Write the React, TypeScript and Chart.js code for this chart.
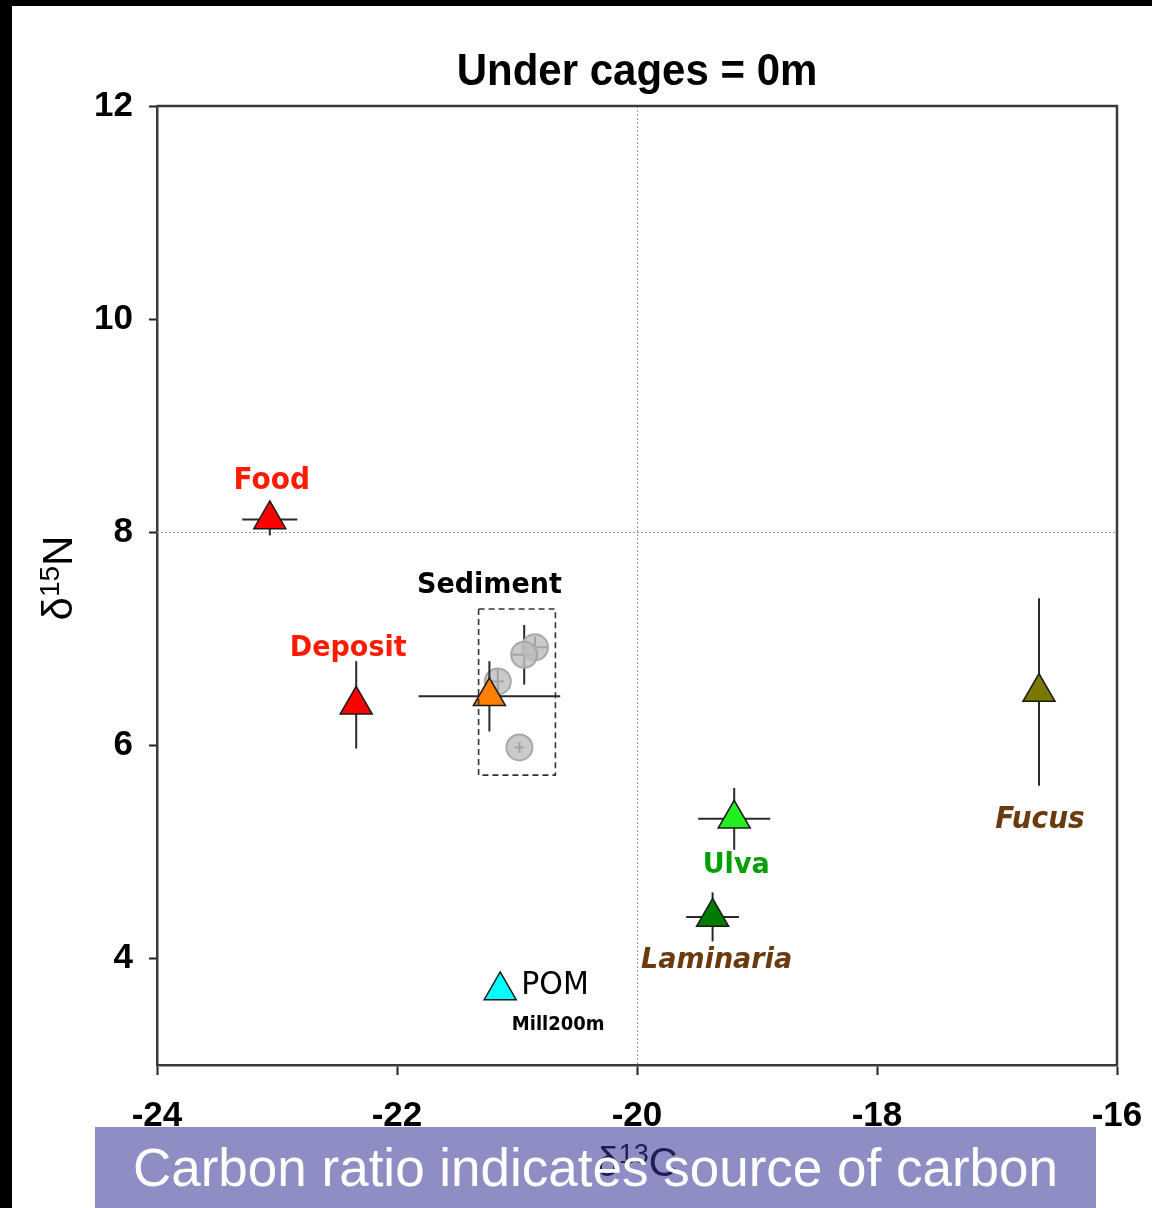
import { useEffect, useRef } from 'react';
import { Chart, registerables } from 'chart.js';

Chart.register(...registerables);

// ---- data ----
const sourceNames = ['Food', 'Deposit', 'Sediment', 'POM', 'Ulva', 'Laminaria', 'Fucus'];
const sourceC13 = [-23.06, -22.34, -21.23, -21.14, -19.19, -19.37, -16.65];
const sourceN15 = [8.12, 6.38, 6.46, 3.7, 5.31, 4.39, 6.5];
const sourceC13Err = [0.23, 0, 0.59, 0, 0.3, 0.22, 0];
const sourceN15Err = [0.15, 0.41, 0.33, 0, 0.29, 0.23, 0.88];

const sedimentC13 = [-20.85, -20.94, -21.16, -20.98];
const sedimentN15 = [6.92, 6.85, 6.6, 5.98];
const sedimentC13Err = [0.1, 0.1, 0.05, 0.04];
const sedimentN15Err = [0.1, 0.28, 0.12, 0.05];
const sedimentBoxC13 = [-21.32, -20.68];
const sedimentBoxN15 = [5.72, 7.28];

const xTicks = [-24, -22, -20, -18, -16];
const yTicks = [4, 6, 8, 10, 12];
const gridX = [-20];
const gridY = [8];

const titleText = 'Under cages = 0m';
const bannerText = 'Carbon ratio indicates source of carbon';

// ---- styles ----
const sourceColors = ['#ff0000', '#ff0000', '#ff8000', '#00ffff', '#22ee22', '#007a00', '#7a7800'];
const labelStyles: Record<string, { font: string; color: string; dx: number; dy: number; align?: CanvasTextAlign }> = {
  Food: { font: 'bold 28px "DejaVu Sans"', color: '#ff1a00', dx: 2, dy: -38 },
  Deposit: { font: 'bold 27px "DejaVu Sans"', color: '#ff1a00', dx: -8, dy: -56 },
  Sediment: { font: 'bold 27px "DejaVu Sans"', color: '#000000', dx: 0, dy: -111 },
  POM: { font: '30px "DejaVu Sans"', color: '#000000', dx: 21, dy: -5, align: 'left' },
  Ulva: { font: 'bold 27px "DejaVu Sans"', color: '#00a000', dx: 2, dy: 47 },
  Laminaria: { font: 'italic bold 27px "DejaVu Sans"', color: '#6b3a0e', dx: 4, dy: 44 },
  Fucus: { font: 'italic bold 28px "DejaVu Sans"', color: '#6b3a0e', dx: 1, dy: 128 },
};

function drawText(ctx: CanvasRenderingContext2D, text: string, x: number, y: number, font: string, color: string, align: CanvasTextAlign = 'center', sy = 1.08) {
  ctx.save();
  ctx.font = font;
  ctx.fillStyle = color;
  ctx.textAlign = align;
  ctx.textBaseline = 'middle';
  ctx.translate(x, y);
  ctx.scale(1, sy);
  ctx.fillText(text, 0, 0);
  ctx.restore();
}

function drawErrBars(ctx: CanvasRenderingContext2D, chart: any, xs: number[], ys: number[], xe: number[], ye: number[]) {
  const sx = chart.scales.x;
  const syy = chart.scales.y;
  ctx.save();
  ctx.strokeStyle = '#2a2a2a';
  ctx.lineWidth = 2;
  for (let i = 0; i < xs.length; i++) {
    const px = sx.getPixelForValue(xs[i]);
    const py = syy.getPixelForValue(ys[i]);
    if (xe[i] > 0) {
      ctx.beginPath();
      ctx.moveTo(sx.getPixelForValue(xs[i] - xe[i]), py);
      ctx.lineTo(sx.getPixelForValue(xs[i] + xe[i]), py);
      ctx.stroke();
    }
    if (ye[i] > 0) {
      ctx.beginPath();
      ctx.moveTo(px, syy.getPixelForValue(ys[i] - ye[i]));
      ctx.lineTo(px, syy.getPixelForValue(ys[i] + ye[i]));
      ctx.stroke();
    }
  }
  ctx.restore();
}

const decorPlugin = {
  id: 'decor',
  beforeDatasetsDraw(chart: any) {
    const { ctx, chartArea: a, scales } = chart;
    ctx.save();
    ctx.strokeStyle = '#9a9a9a';
    ctx.lineWidth = 1;
    ctx.setLineDash([2, 2]);
    gridX.forEach((v) => {
      const x = Math.round(scales.x.getPixelForValue(v)) + 0.5;
      ctx.beginPath();
      ctx.moveTo(x, a.top);
      ctx.lineTo(x, a.bottom);
      ctx.stroke();
    });
    gridY.forEach((v) => {
      const y = Math.round(scales.y.getPixelForValue(v)) + 0.5;
      ctx.beginPath();
      ctx.moveTo(a.left, y);
      ctx.lineTo(a.right, y);
      ctx.stroke();
    });
    ctx.restore();
  },
  beforeDatasetDraw(chart: any, args: any) {
    const ctx = chart.ctx;
    if (args.index === 0) {
      drawErrBars(ctx, chart, sourceC13, sourceN15, sourceC13Err, sourceN15Err);
    } else if (args.index === 1) {
      drawErrBars(ctx, chart, sedimentC13, sedimentN15, sedimentC13Err, sedimentN15Err);
    }
  },
  afterDatasetsDraw(chart: any) {
    const { ctx, scales } = chart;
    const x0 = scales.x.getPixelForValue(sedimentBoxC13[0]);
    const x1 = scales.x.getPixelForValue(sedimentBoxC13[1]);
    const y0 = scales.y.getPixelForValue(sedimentBoxN15[1]);
    const y1 = scales.y.getPixelForValue(sedimentBoxN15[0]);
    ctx.save();
    ctx.strokeStyle = '#333333';
    ctx.lineWidth = 1.6;
    ctx.setLineDash([6, 4]);
    ctx.strokeRect(x0, y0, x1 - x0, y1 - y0);
    ctx.restore();
  },
  afterDraw(chart: any) {
    const { ctx, chartArea: a, scales } = chart;
    // frame top/right
    ctx.save();
    ctx.strokeStyle = '#3a3a3a';
    ctx.lineWidth = 2.5;
    ctx.beginPath();
    ctx.moveTo(a.left, a.top);
    ctx.lineTo(a.right, a.top);
    ctx.lineTo(a.right, a.bottom);
    ctx.stroke();
    ctx.restore();

    // title
    drawText(ctx, titleText, (a.left + a.right) / 2, a.top - 33, 'bold 42px "Liberation Sans", Arial', '#000', 'center', 1.05);

    // point labels
    sourceNames.forEach((name, i) => {
      const st = labelStyles[name];
      if (!st) return;
      const px = scales.x.getPixelForValue(sourceC13[i]);
      const py = scales.y.getPixelForValue(sourceN15[i]);
      drawText(ctx, name, px + st.dx, py + st.dy, st.font, st.color, st.align || 'center');
      if (name === 'POM') {
        drawText(ctx, 'Mill200m', px + 58, py + 35, 'bold 18px "DejaVu Sans"', '#000', 'center');
      }
    });

    // y-axis title: δ15N rotated
    ctx.save();
    ctx.translate(72, 578);
    ctx.rotate(-Math.PI / 2);
    ctx.fillStyle = '#000';
    ctx.textBaseline = 'alphabetic';
    ctx.textAlign = 'left';
    ctx.font = '42px "Liberation Sans", Arial';
    const dW = ctx.measureText('δ').width;
    ctx.font = '28px "Liberation Sans", Arial';
    const sW = ctx.measureText('15').width;
    ctx.font = '42px "Liberation Sans", Arial';
    const nW = ctx.measureText('N').width;
    const sx0 = -(dW + sW + nW) / 2;
    ctx.fillText('δ', sx0, 0);
    ctx.font = '28px "Liberation Sans", Arial';
    ctx.fillText('15', sx0 + dW, -13);
    ctx.font = '42px "Liberation Sans", Arial';
    ctx.fillText('N', sx0 + dW + sW, 0);
    ctx.restore();

    // x-axis title: δ13C (under the banner)
    ctx.save();
    ctx.fillStyle = '#000';
    ctx.textBaseline = 'alphabetic';
    ctx.textAlign = 'left';
    ctx.font = '40px "Liberation Sans", Arial';
    const dW2 = ctx.measureText('δ').width;
    const cW2 = ctx.measureText('C').width;
    ctx.font = '27px "Liberation Sans", Arial';
    const sW2 = ctx.measureText('13').width;
    const x0 = 637 - (dW2 + sW2 + cW2) / 2;
    const by = 1176;
    ctx.font = '40px "Liberation Sans", Arial';
    ctx.fillText('δ', x0, by);
    ctx.font = '27px "Liberation Sans", Arial';
    ctx.fillText('13', x0 + dW2, by - 13);
    ctx.font = '40px "Liberation Sans", Arial';
    ctx.fillText('C', x0 + dW2 + sW2, by);
    ctx.restore();
  },
};

export default function App() {
  const canvasRef = useRef<HTMLCanvasElement | null>(null);

  useEffect(() => {
    document.body.style.margin = '0';
    const canvas = canvasRef.current;
    if (!canvas) return;
    const tickFont = { family: '"Liberation Sans", Arial', size: 35, weight: 'bold' as const };
    const chart = new Chart(canvas, {
      type: 'scatter',
      data: {
        datasets: [
          {
            label: 'Sources',
            data: sourceC13.map((x, i) => ({ x, y: sourceN15[i] })),
            pointStyle: 'triangle',
            pointRadius: 18.5,
            backgroundColor: sourceColors,
            borderColor: '#1a1a1a',
            borderWidth: 1.5,
          },
          {
            label: 'Sediment',
            data: sedimentC13.map((x, i) => ({ x, y: sedimentN15[i] })),
            pointStyle: 'circle',
            pointRadius: 13,
            backgroundColor: 'rgba(190,190,190,0.82)',
            borderColor: '#a8a8a8',
            borderWidth: 2,
          },
        ],
      },
      options: {
        responsive: false,
        animation: false,
        devicePixelRatio: 1,
        events: [],
        layout: { padding: { top: 106, right: 35, left: 0, bottom: 0 } },
        plugins: {
          legend: { display: false },
          tooltip: { enabled: false },
          title: { display: false },
        },
        scales: {
          x: {
            type: 'linear',
            min: -24,
            max: -16,
            afterBuildTicks: (scale: any) => {
              scale.ticks = xTicks.map((v) => ({ value: v }));
            },
            afterFit: (scale: any) => {
              scale.height = 143;
              scale.paddingLeft = 0;
              scale.paddingRight = 0;
            },
            ticks: {
              font: tickFont,
              color: '#000',
              padding: 20,
              maxRotation: 0,
              autoSkip: false,
              callback: (v: any) => String(v),
            },
            grid: { drawOnChartArea: false, drawTicks: true, tickLength: 10, tickColor: '#222', tickWidth: 2 },
            border: { display: true, color: '#3a3a3a', width: 2.5 },
          },
          y: {
            type: 'linear',
            min: 3,
            max: 12,
            afterBuildTicks: (scale: any) => {
              scale.ticks = yTicks.map((v) => ({ value: v }));
            },
            afterFit: (scale: any) => {
              scale.width = 157;
              scale.paddingTop = 0;
              scale.paddingBottom = 0;
            },
            ticks: {
              font: tickFont,
              color: '#000',
              padding: 16,
              autoSkip: false,
              callback: (v: any) => String(v),
            },
            grid: { drawOnChartArea: false, drawTicks: true, tickLength: 8, tickColor: '#222', tickWidth: 2 },
            border: { display: true, color: '#3a3a3a', width: 2.5 },
          },
        },
      },
      plugins: [decorPlugin],
    });
    return () => chart.destroy();
  }, []);

  return (
    <div style={{ position: 'absolute', left: 0, top: 0, width: 1152, height: 1208, background: '#ffffff', overflow: 'hidden' }}>
      <canvas ref={canvasRef} width={1152} height={1208} style={{ position: 'absolute', left: 0, top: 0, width: 1152, height: 1208 }} />
      <div style={{ position: 'absolute', left: 0, top: 0, width: 12, height: 1208, background: '#000' }} />
      <div style={{ position: 'absolute', left: 0, top: 0, width: 1152, height: 6, background: '#000' }} />
      <div
        style={{
          position: 'absolute',
          left: 95,
          top: 1127,
          width: 1001,
          height: 81,
          background: 'rgba(54,54,150,0.56)',
          color: '#ffffff',
          fontFamily: '"Liberation Sans", Arial, sans-serif',
          fontSize: 53,
          lineHeight: '81px',
          textAlign: 'center',
          whiteSpace: 'nowrap',
        }}
      >
        {bannerText}
      </div>
    </div>
  );
}
